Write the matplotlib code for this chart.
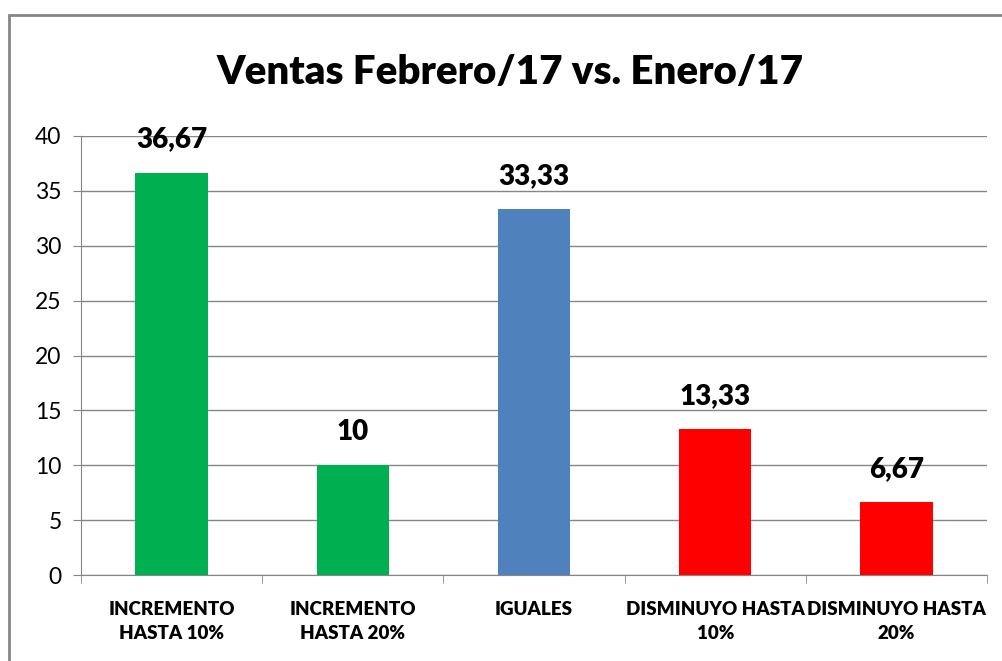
import matplotlib.pyplot as plt
from matplotlib.patches import Rectangle

categorias = ['INCREMENTO\nHASTA 10%', 'INCREMENTO\nHASTA 20%', 'IGUALES',
              'DISMINUYO HASTA\n10%', 'DISMINUYO HASTA\n20%']
valores = [36.67, 10, 33.33, 13.33, 6.67]
etiquetas = ['36,67', '10', '33,33', '13,33', '6,67']
colores = ['#00B050', '#00B050', '#4F81BD', '#FF0000', '#FF0000']

plt.rcParams['font.family'] = ['Lato', 'DejaVu Sans']

W, H = 1003, 661
fig = plt.figure(figsize=(W / 100, H / 100), dpi=100)
ax = fig.add_axes([81 / W, (H - 575) / H, (987 - 81) / W, (575 - 136) / H])

# marco del grafico (cortado a la derecha y abajo)
fig.patches.append(Rectangle((9 / W, -0.1), 1.2, (H - 15) / H + 0.1, transform=fig.transFigure,
                             fill=False, edgecolor='#868686', linewidth=2))

x = range(len(valores))
ax.bar(x, valores, width=0.4, color=colores, zorder=3)
ax.set_xlim(-0.5, len(valores) - 0.5)
ax.set_ylim(0, 40)
ax.set_yticks(range(0, 41, 5))
ax.grid(axis='y', color='#868686', linewidth=1, zorder=0)

for i, v in enumerate(valores):
    ax.annotate(etiquetas[i], (i, v), xytext=(0, 20), textcoords='offset pixels',
                ha='center', va='bottom', fontsize=20, fontweight='heavy')

ax.set_xticks(list(x))
ax.set_xticklabels(categorias, fontsize=13.5, fontweight='heavy', linespacing=1.45)
ax.tick_params(axis='x', length=0, pad=19)
ax.set_xticks([i - 0.5 for i in range(len(valores) + 1)], minor=True)
ax.tick_params(axis='x', which='minor', length=6, color='#868686', direction='out')
ax.tick_params(axis='y', length=6, color='#868686', labelsize=16.5, pad=8)

for s in ['top', 'right']:
    ax.spines[s].set_visible(False)
for s in ['left', 'bottom']:
    ax.spines[s].set_color('#868686')

fig.text(510 / W, (H - 72) / H, 'Ventas Febrero/17 vs. Enero/17', ha='center', va='center',
         fontsize=29, fontweight='heavy')

plt.savefig('out.png', dpi=100)
